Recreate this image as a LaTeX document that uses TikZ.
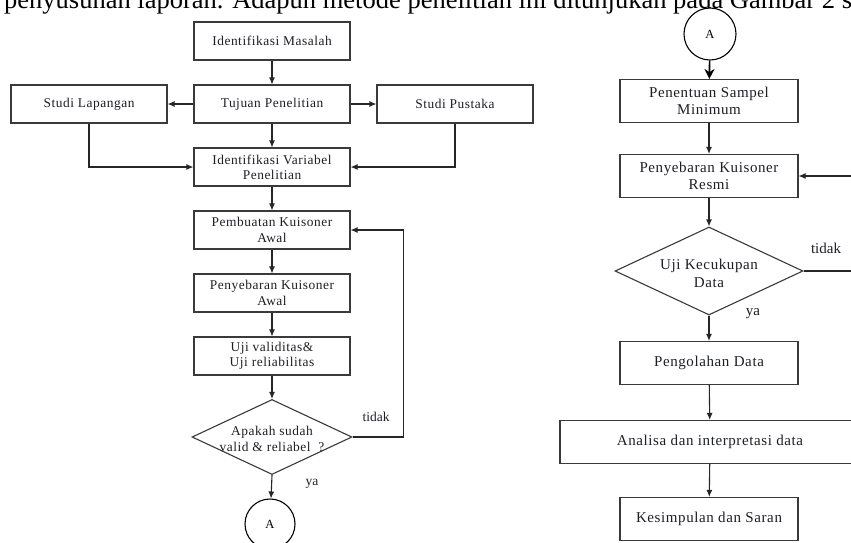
\documentclass[tikz,border=0pt]{standalone}
\usepackage{fontspec}
\setmainfont{Liberation Serif}
\newfontfamily\boxfont[LetterSpace=4]{Liberation Serif}
\usetikzlibrary{shapes.geometric,arrows.meta}
\definecolor{txt}{HTML}{1E1E28}
\definecolor{edge}{HTML}{3A3A3A}
\tikzset{
  boxL/.style={draw=edge, line width=1.1pt, minimum width=156pt, minimum height=38pt,
    inner sep=0pt, align=center, text=txt, font=\boxfont\fontsize{13.4}{15.2}\selectfont},
  boxR/.style={draw=edge, line width=1.1pt, minimum width=178pt, minimum height=43pt,
    inner sep=0pt, align=center, text=txt, font=\boxfont\fontsize{15}{17.5}\selectfont},
  decshape/.style={draw=edge, line width=1.1pt, shape=diamond, inner sep=0pt},
  decL/.style={inner sep=0pt, align=center, text=txt, font=\boxfont\fontsize{13.4}{15.2}\selectfont},
  decR/.style={inner sep=0pt, align=center, text=txt, font=\boxfont\fontsize{15}{18}\selectfont},
  conn/.style={draw=black, line width=1.1pt, shape=circle, inner sep=0pt, text=black,
    font=\fontsize{12.5}{14}\selectfont},
  arr/.style={-{Latex[length=7pt,width=6pt]}, line width=1.1pt, draw=black!85},
  lab/.style={text=txt, inner sep=0pt}
}
\begin{document}
\begin{tikzpicture}[x=1pt,y=-1pt]
\clip (0,0) rectangle (851,542);
\fill[white] (0,0) rectangle (851,542);
% top running text
\node[anchor=base west, inner sep=0pt, font=\fontsize{26.5}{30}\selectfont] (para) at (4,8)
  {penyusunan laporan. Adapun metode penelitian ini ditunjukan pada Gambar 2 s};

% left column
\node[boxL] (im) at (272,41) {Identifikasi Masalah};
\node[boxL] (tp) at (272,104) {Tujuan Penelitian};
\node[boxL] (sl) at (89,104) {Studi Lapangan};
\node[boxL] (sp) at (455,104) {Studi Pustaka};
\node[boxL] (iv) at (272,167) {Identifikasi Variabel\\Penelitian};
\node[boxL] (pk) at (272,230) {Pembuatan Kuisoner\\Awal};
\node[boxL] (pa) at (272,293) {Penyebaran Kuisoner\\Awal};
\node[boxL] (uv) at (272,356) {Uji validitas\&\\Uji reliabilitas};
\node[decshape, minimum width=160pt, minimum height=75pt] (dv) at (272,437) {};
\node[decL] (dvt) at (272,439) {Apakah sudah\\valid \& reliabel~~?};
\node[conn, minimum size=50pt] (a1) at (270,524) {A};
\node[lab, font=\fontsize{13.5}{15}\selectfont, anchor=base] (t1) at (376,421) {tidak};
\node[lab, font=\fontsize{13.5}{15}\selectfont, anchor=base] (y1) at (312,485) {ya};

\draw[arr] (im) -- (tp);
\draw[arr] (tp) -- (sl);
\draw[arr] (tp) -- (sp);
\draw[arr] (tp) -- (iv);
\draw[arr] (sl.south) |- (iv.west);
\draw[arr] (sp.south) |- (iv.east);
\draw[arr] (iv) -- (pk);
\draw[arr] (pk) -- (pa);
\draw[arr] (pa) -- (uv);
\draw[arr] (uv) -- (dv);
\draw[arr] (dv.east) -- ++(51,0) |- (pk.east);
\draw[arr] (dv.south) -- (a1);

% right column
\node[conn, minimum size=52pt] (a2) at (710,34) {A};
\node[boxR] (ps) at (709,101) {Penentuan Sampel\\Minimum};
\node[boxR] (pr) at (709,176) {Penyebaran Kuisoner\\Resmi};
\node[decshape, minimum width=188pt, minimum height=88pt] (dk) at (709,271) {};
\node[decR] (dkt) at (709,273) {Uji Kecukupan\\Data};
\node[boxR] (pd) at (709,363) {Pengolahan Data};
\node[boxR, minimum width=300pt] (ad) at (710,442) {Analisa dan interpretasi data};
\node[boxR] (ks) at (709,519) {Kesimpulan dan Saran};
\node[lab, font=\fontsize{15}{17}\selectfont, anchor=base] (t2) at (826,253) {tidak};
\node[lab, font=\fontsize{15}{17}\selectfont, anchor=base] (y2) at (753,315) {ya};

\draw[-{Stealth[length=10pt,width=10pt]}, line width=1.6pt] (a2) -- (ps);
\draw[arr] (ps) -- (pr);
\draw[arr] (pr) -- (dk);
\draw[arr] (dk.east) -- ++(60,0) |- (pr.east);
\draw[arr] (dk) -- (pd);
\draw[arr] (pd) -- (ad);
\draw[arr] (ad) -- (ks);
\end{tikzpicture}
\end{document}
